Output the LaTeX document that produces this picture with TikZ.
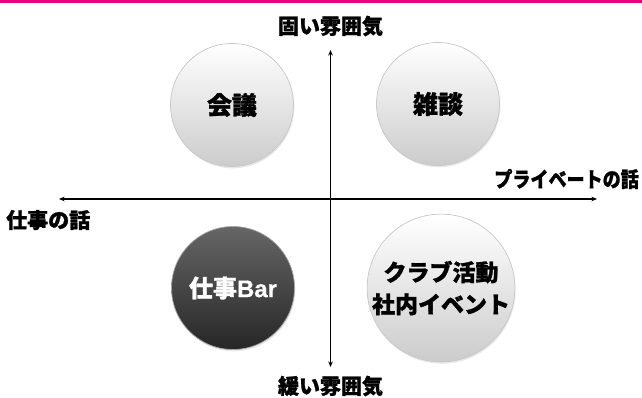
\documentclass[tikz,border=0pt]{standalone}
\usepackage{fontspec}
\setmainfont{Noto Sans CJK JP}[BoldFeatures={FakeBold=1.2}]
\newfontfamily\latinfont{Liberation Sans}[BoldFeatures={FakeBold=0.6}]
\usetikzlibrary{arrows.meta,shadows}
\definecolor{topline}{HTML}{E4007F}
\begin{document}
\begin{tikzpicture}[x=1pt,y=-1pt,
  ball/.style={circle, minimum size=123pt, inner sep=0pt, draw=black!22, line width=0.7pt,
    top color=white, bottom color=black!20, text=black,
    font=\bfseries\fontsize{25}{30}\selectfont, align=center,
    drop shadow={opacity=0.18, shadow xshift=0.8pt, shadow yshift=-1.8pt}},
  darkball/.style={ball, top color=black!60, bottom color=black!85, draw=black!35, text=white},
  axislabel/.style={font=\bfseries\fontsize{21}{25}\selectfont, inner sep=0pt},
  axisline/.style={line width=1.2pt, {Stealth[length=5.5pt,width=4.5pt]}-{Stealth[length=5.5pt,width=4.5pt]}}]
\useasboundingbox (0,0) rectangle (642,397);
\fill[topline] (0,0) rectangle (642,2.5);

% axes
\coordinate (vtop) at (330.5,50);
\coordinate (vbot) at (330.5,367);
\coordinate (hleft) at (59,199);
\coordinate (hright) at (597,199);
\draw[axisline] (hleft) -- (hright);
\draw[axisline] (vbot) -- (vtop);

% axis labels
\node[axislabel] (hard) at (330.5,26) {固い雰囲気};
\node[axislabel] (soft) at (330.5,386) {緩い雰囲気};
\node[axislabel, anchor=west] (work) at (6,220) {仕事の話};
\node[axislabel, anchor=east] (private) at (639,179) {\scalebox{0.86}[1]{プライベートの話}};

% circles
\node[ball] (kaigi) at (232,105) {会議};
\node[ball] (zatsudan) at (438,104) {雑談};
\node[darkball, font=\bfseries\fontsize{24}{28}\selectfont] (bar) at (233,288) {仕事{\latinfont Bar}};
\node[ball, font=\bfseries\fontsize{23}{32}\selectfont] (club) at (441,288) {クラブ活動\\社内イベント};
\end{tikzpicture}
\end{document}
